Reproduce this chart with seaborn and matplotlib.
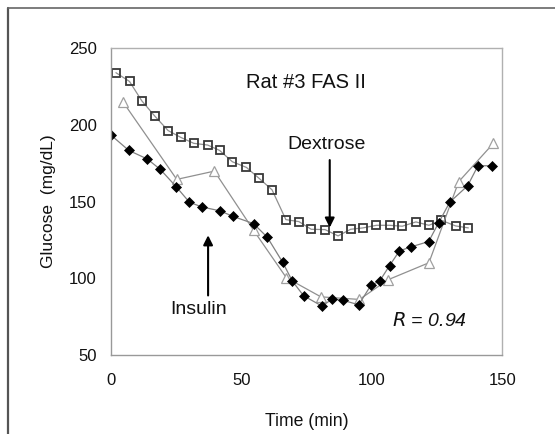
import numpy as np
import pandas as pd
import seaborn as sns
import matplotlib.pyplot as plt
from matplotlib.lines import Line2D

# Dextrose series (open squares)
dex_t = [2.0, 7.2, 11.9, 16.9, 22.0, 26.8, 31.8, 37.1, 41.7, 46.6, 52.0, 56.9, 61.8,
         67.1, 72.1, 76.8, 82.1, 87.1, 91.9, 96.6, 101.8, 106.8, 111.7, 116.9, 121.9,
         126.6, 132.1, 137.0]
dex_g = [233.9, 228.2, 215.6, 205.6, 196.2, 191.8, 187.9, 186.8, 183.3, 175.9, 172.2,
         165.0, 157.6, 138.2, 136.9, 131.9, 131.7, 127.6, 131.9, 132.8, 134.5, 134.5,
         133.9, 136.7, 134.5, 137.8, 134.1, 132.8]

# model / comparison series (open triangles)
tri_t = [4.6, 25.3, 39.7, 54.7, 67.3, 80.5, 95.3, 106.2, 121.9, 133.3, 146.6]
tri_g = [215.1, 164.4, 169.8, 131.3, 100.3, 87.9, 86.2, 99.0, 110.1, 162.9, 187.9]

# Insulin series (filled diamonds)
ins_t = [0.0, 6.9, 14.0, 19.0, 25.1, 30.1, 34.8, 41.9, 46.7, 54.7, 60.0, 65.9, 69.6,
         73.9, 81.0, 84.7, 88.9, 95.0, 99.7, 103.0, 106.8, 110.6, 114.9, 121.8, 125.6,
         129.9, 136.7, 140.7, 145.9]
ins_g = [193.4, 183.3, 177.7, 170.9, 159.6, 149.6, 146.5, 143.9, 140.4, 135.6, 126.7,
         110.3, 98.1, 88.6, 81.8, 86.4, 85.7, 82.7, 95.5, 98.1, 108.2, 117.8, 120.4,
         123.9, 136.1, 149.6, 160.2, 173.3, 173.3]

x_ticks = [0, 50, 100, 150]
y_ticks = [50, 100, 150, 200, 250]

sns.set_style('white')
plt.rcParams['font.family'] = ['Liberation Sans', 'DejaVu Sans']

fig = plt.figure(figsize=(5.55, 4.34), dpi=100)
ax = fig.add_axes([0.1995, 0.182, 0.7055, 0.7074])

dex = pd.DataFrame({'t': dex_t, 'g': dex_g})
tri = pd.DataFrame({'t': tri_t, 'g': tri_g})
ins = pd.DataFrame({'t': ins_t, 'g': ins_g})

sns.lineplot(data=dex, x='t', y='g', ax=ax, estimator=None, sort=False,
             color='#909090', lw=0.9, marker='s', markersize=5.2,
             markerfacecolor='none', markeredgecolor='#383838', markeredgewidth=1.3)
sns.lineplot(data=tri, x='t', y='g', ax=ax, estimator=None, sort=False,
             color='#909090', lw=0.9, marker='^', markersize=6.5,
             markerfacecolor='white', markeredgecolor='#a0a0a0', markeredgewidth=0.9)
sns.lineplot(data=ins, x='t', y='g', ax=ax, estimator=None, sort=False,
             color='#808080', lw=0.9, marker='D', markersize=5,
             markerfacecolor='black', markeredgecolor='black', markeredgewidth=0.5)

ax.set_xlim(0, 150)
ax.set_ylim(50, 250)
ax.set_xticks(x_ticks)
ax.set_yticks(y_ticks)
ax.tick_params(axis='both', direction='out', length=5, width=1, color='#999999',
               labelsize=12, labelcolor='#111111')
ax.tick_params(axis='x', pad=8)
ax.tick_params(axis='y', pad=5)
for s in ax.spines.values():
    s.set_color('#b0b0b0')
    s.set_linewidth(1)
ax.spines['left'].set_color('#999999')
ax.spines['bottom'].set_color('#999999')

ax.set_xlabel('Time (min)', fontsize=12.7, labelpad=18, color='#111111')
ax.set_ylabel('Glucose  (mg/dL)', fontsize=12.5, labelpad=9, color='#111111')

ax.text(74.9, 227.6, 'Rat #3 FAS II', fontsize=14.5, ha='center', va='center',
        color='#111111')
ax.text(82.8, 187.0, 'Dextrose', fontsize=14, ha='center', va='center',
        color='#111111')
ax.text(33.5, 79.4, 'Insulin', fontsize=14, ha='center', va='center',
        color='#111111')
ax.text(122.2, 72.4, r'$R$ = 0.94', fontsize=14, ha='center', va='center',
        style='italic', color='#111111')

arrow = dict(arrowstyle='-|>', color='black', lw=1.5, mutation_scale=14,
             shrinkA=0, shrinkB=0)
ax.annotate('', xy=(83.9, 133.0), xytext=(83.9, 177.0), arrowprops=arrow)
ax.annotate('', xy=(37.3, 128.0), xytext=(37.3, 88.8), arrowprops=arrow)

# outer frame (left and top edges only)
fig.add_artist(Line2D([8 / 555, 8 / 555], [0, 1 - 8 / 434], color='#555555', lw=1.6))
fig.add_artist(Line2D([8 / 555, 1], [1 - 8 / 434, 1 - 8 / 434], color='#666666', lw=1.2))

fig.savefig('out.png', dpi=100)
